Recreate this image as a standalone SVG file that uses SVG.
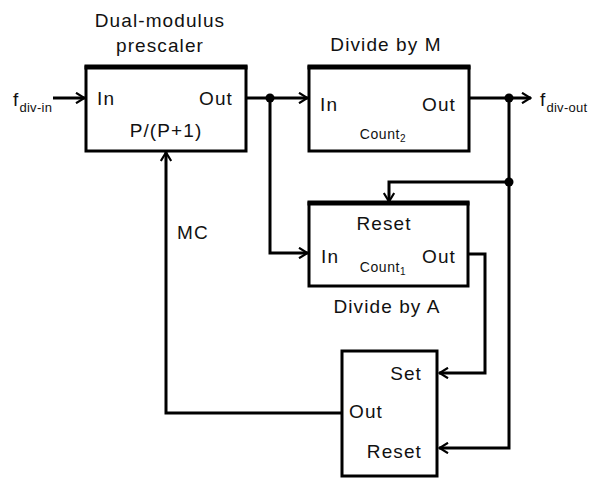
<svg xmlns="http://www.w3.org/2000/svg" width="593" height="478" viewBox="0 0 593 478">
<style>
text{font-family:"Liberation Sans",Arial,sans-serif;fill:#111}
.lbl{font-size:19px;letter-spacing:1.1px}
.sm{font-size:14px;letter-spacing:0.6px}
.sub{font-size:13px;letter-spacing:0.3px}
.box{fill:#fff;stroke:#000;stroke-width:3}
.top{stroke:#000;stroke-width:5}
.w{fill:none;stroke:#000;stroke-width:3}
</style>
<defs>
<marker id="ah" viewBox="0 0 12 12" refX="11" refY="6" markerWidth="12" markerHeight="12" markerUnits="userSpaceOnUse" orient="auto">
<path d="M2,0.8 L10.5,6 L2,11.2" fill="none" stroke="#000" stroke-width="2.2"/>
</marker>
</defs>
<g id="connectors">
<line class="w" x1="53" y1="98" x2="85" y2="98" marker-end="url(#ah)"/>
<line class="w" x1="246" y1="98" x2="308" y2="98" marker-end="url(#ah)"/>
<polyline class="w" points="270,98 270,253 308,253" marker-end="url(#ah)"/>
<line class="w" x1="470" y1="98" x2="531" y2="98" marker-end="url(#ah)"/>
<polyline class="w" points="509,98 509,448 439,448" marker-end="url(#ah)"/>
<polyline class="w" points="509,182 389,182 389,202" marker-end="url(#ah)"/>
<polyline class="w" points="468,254 485,254 485,373 439,373" marker-end="url(#ah)"/>
<polyline class="w" points="342,413 166,413 166,152" marker-end="url(#ah)"/>
<circle cx="270" cy="98" r="4.5"/>
<circle cx="509" cy="98" r="4.5"/>
<circle cx="509" cy="182" r="4.5"/>
</g>
<g id="input-label">
<text class="lbl" x="13" y="106">f<tspan class="sub" dy="6">div-in</tspan></text>
</g>
<g id="output-label">
<text class="lbl" x="540" y="106">f<tspan class="sub" dy="6">div-out</tspan></text>
</g>
<g id="prescaler">
<text class="lbl" x="160" y="27" text-anchor="middle">Dual-modulus</text>
<text class="lbl" x="160" y="52" text-anchor="middle">prescaler</text>
<rect class="box" x="86" y="67" width="160" height="84"/>
<line class="top" x1="84.5" y1="67" x2="247.5" y2="67"/>
<text class="lbl" x="97" y="105">In</text>
<text class="lbl" x="233" y="105" text-anchor="end">Out</text>
<text class="lbl" x="166" y="137" text-anchor="middle">P/(P+1)</text>
</g>
<g id="divide-m">
<text class="lbl" x="386" y="51" text-anchor="middle">Divide by M</text>
<rect class="box" x="309" y="67" width="160" height="84"/>
<line class="top" x1="307.5" y1="67" x2="470.5" y2="67"/>
<text class="lbl" x="320" y="111">In</text>
<text class="lbl" x="456" y="111" text-anchor="end">Out</text>
<text class="sm" x="383" y="139" text-anchor="middle">Count<tspan font-size="10" dy="3">2</tspan></text>
</g>
<g id="mc-label">
<text class="lbl" x="177" y="239">MC</text>
</g>
<g id="divide-a">
<rect class="box" x="309" y="203" width="159" height="83"/>
<line class="top" x1="307.5" y1="203" x2="469.5" y2="203"/>
<text class="lbl" x="384" y="230" text-anchor="middle">Reset</text>
<text class="lbl" x="321" y="263">In</text>
<text class="lbl" x="456" y="263" text-anchor="end">Out</text>
<text class="sm" x="383" y="272" text-anchor="middle">Count<tspan font-size="10" dy="3">1</tspan></text>
<text class="lbl" x="387" y="313" text-anchor="middle">Divide by A</text>
</g>
<g id="latch">
<rect class="box" x="342" y="351" width="95" height="125"/>
<text class="lbl" x="422" y="380" text-anchor="end">Set</text>
<text class="lbl" x="349" y="418">Out</text>
<text class="lbl" x="422" y="458" text-anchor="end">Reset</text>
</g>
</svg>
